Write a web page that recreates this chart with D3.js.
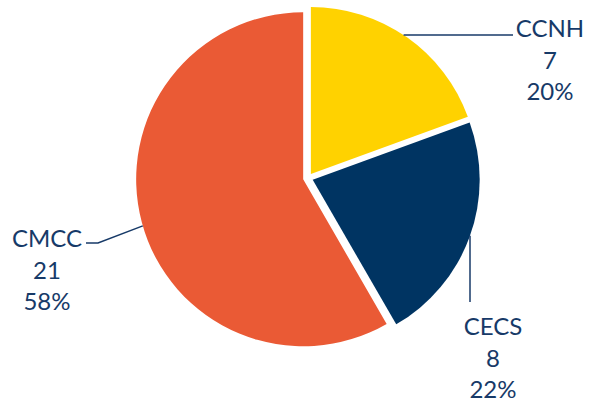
<!DOCTYPE html>
<html>
<head>
<meta charset="utf-8">
<script src="https://cdn.jsdelivr.net/npm/d3@7"></script>
<style>
  body { margin: 0; background: #fff; }
  svg { display: block; }
  .lbl { font-family: Lato, "Open Sans", sans-serif; fill: #173a68; }
</style>
</head>
<body>
<svg id="chart" width="592" height="405"></svg>
<script>
// data
var categories = ["CCNH", "CECS", "CMCC"];
var counts = [7, 8, 21];
var percentLabels = ["20%", "22%", "58%"];
var colors = ["#ffd200", "#003462", "#ea5a35"];

var svg = d3.select("#chart");
var width = 592, height = 405;

// pie geometry
var cx = 308, cy = 178, radius = 167, explode = 5;

var pie = d3.pie().sort(null).value(function(d) { return d; });
var arc = d3.arc().innerRadius(0).outerRadius(radius);
var arcs = pie(counts);

var g = svg.append("g")
    .attr("transform", "translate(" + cx + "," + cy + ")");

function offset(d) {
  var a = (d.startAngle + d.endAngle) / 2;
  return [Math.sin(a) * explode, -Math.cos(a) * explode];
}

g.selectAll(".slice")
  .data(arcs)
  .enter().append("path")
    .attr("class", "slice")
    .attr("d", arc)
    .attr("fill", function(d, i) { return colors[i]; })
    .attr("transform", function(d) {
      var o = offset(d);
      return "translate(" + o[0] + "," + o[1] + ")";
    });

// label placement (page coords) and leader style per slice
var labelPos = [
  {x: 550, y: 37, lead: "h", lx: 513},
  {x: 493, y: 335, lead: "v", ly: 302},
  {x: 47, y: 247, lead: "elbow", lx: 86, ex: 98, angle: 4.43}
];
var lineGap = 31.5;

// point on a slice's rim, in page coords
function rimPoint(d, angle) {
  var o = offset(d);
  return [cx + o[0] + Math.sin(angle) * radius, cy + o[1] - Math.cos(angle) * radius];
}

var leaders = svg.append("g")
    .attr("fill", "none")
    .attr("stroke", "#173a68")
    .attr("stroke-width", 1.5);

arcs.forEach(function(d, i) {
  var p = labelPos[i], o = offset(d), pts;
  var ox = cx + o[0], oy = cy + o[1];
  if (p.lead === "h") {
    var ly = p.y - 2;
    var dx = Math.sqrt(radius * radius - (ly - oy) * (ly - oy));
    pts = [[p.lx, ly], [ox + dx, ly]];
  } else if (p.lead === "v") {
    var vx = p.x - 23;
    var dy = Math.sqrt(radius * radius - (vx - ox) * (vx - ox));
    pts = [[vx, p.ly], [vx, oy + dy]];
  } else {
    var ey = p.y - 4;
    pts = [[p.lx, ey], [p.ex, ey], rimPoint(d, p.angle)];
  }
  leaders.append("path").attr("d", d3.line()(pts));
});

var labels = svg.selectAll(".lbl")
  .data(arcs)
  .enter().append("text")
    .attr("class", "lbl")
    .attr("text-anchor", "middle")
    .attr("font-size", 24);

labels.each(function(d, i) {
  var t = d3.select(this), p = labelPos[i];
  [categories[i], String(counts[i]), percentLabels[i]].forEach(function(s, k) {
    t.append("tspan").attr("x", p.x).attr("y", p.y + k * lineGap).text(s);
  });
});
</script>
</body>
</html>
